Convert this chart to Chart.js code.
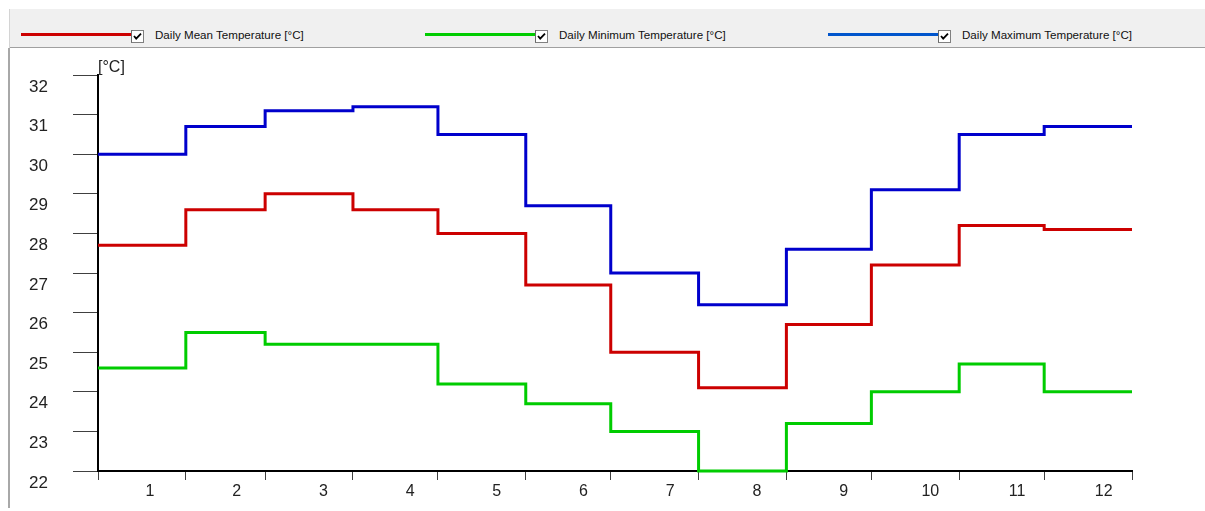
<!DOCTYPE html>
<html>
<head>
<meta charset="utf-8">
<script src="https://cdn.jsdelivr.net/npm/chart.js@4.4.1/dist/chart.umd.min.js"></script>
<style>
html,body{margin:0;padding:0;background:#fff;width:1205px;height:511px;overflow:hidden;position:relative;font-family:"Liberation Sans",Arial,sans-serif;}
#strip{position:absolute;left:10px;top:9px;width:1195px;height:38px;background:#f0f0f0;border-bottom:1px solid #a0a0a0;}
#edgeTop{position:absolute;left:9px;top:9px;width:1px;height:39px;background:#d4d4d4;}
#edgeLeft{position:absolute;left:8px;top:48px;width:2px;height:460px;background:#a8a8a8;}
.lgLine{position:absolute;height:3px;top:33px;}
.lgBox{position:absolute;top:29px;width:13px;height:13px;}
.lgText{position:absolute;top:28px;font-size:11.6px;line-height:14px;color:#111;white-space:nowrap;}
#wrap{position:absolute;left:0;top:48px;width:1205px;height:463px;}
</style>
</head>
<body>
<div id="strip"></div>
<div id="edgeTop"></div>
<div id="edgeLeft"></div>
<div id="legend"></div>
<div id="wrap"><canvas id="c"></canvas></div>
<script>
// ---- data ----
const monthLabels = ['1','2','3','4','5','6','7','8','9','10','11','12'];
const daysInMonth = [31,28,31,30,31,30,31,31,30,31,30,31];
const meanTemp = [27.7,28.6,29.0,28.6,28.0,26.7,25.0,24.1,25.7,27.2,28.2,28.1];
const minTemp  = [24.6,25.5,25.2,25.2,24.2,23.7,23.0,22.0,23.2,24.0,24.7,24.0];
const maxTemp  = [30.0,30.7,31.1,31.2,30.5,28.7,27.0,26.2,27.6,29.1,30.5,30.7];
const yTickValues = [22,23,24,25,26,27,28,29,30,31,32];
const seriesNames = ['Daily Mean Temperature [°C]','Daily Minimum Temperature [°C]','Daily Maximum Temperature [°C]'];
const seriesColors = ['#cc0000','#00cc00','#0000cc'];
const legendColors = ['#cc0000','#00cc00','#0055cc'];
const unitLabel = '[°C]';

// ---- derived ----
const boundaries = [0];
daysInMonth.forEach(d => boundaries.push(boundaries[boundaries.length-1] + d));
const yearDays = boundaries[boundaries.length-1];

function stepPoints(vals){
  const pts = vals.map((v,i) => ({x: boundaries[i], y: v}));
  pts.push({x: yearDays, y: vals[vals.length-1]});
  return pts;
}

// ---- legend (HTML) ----
const legendX = [21, 425, 828];
const legend = document.getElementById('legend');
seriesNames.forEach((name, i) => {
  const x = legendX[i];
  const line = document.createElement('div');
  line.className = 'lgLine';
  line.style.left = x + 'px';
  line.style.width = '111px';
  line.style.background = legendColors[i];
  legend.appendChild(line);
  const box = document.createElement('div');
  box.className = 'lgBox';
  box.style.left = (x + 110) + 'px';
  box.innerHTML = '<svg width="13" height="13" viewBox="0 0 13 13"><rect x="0.5" y="0.5" width="12" height="12" fill="#fff" stroke="#808080"/><path d="M1.5 0.5H0.5V12.5" fill="none" stroke="#6a6a6a"/><polyline points="3,6 5.2,8.6 10,3.6" fill="none" stroke="#000" stroke-width="1.8"/></svg>';
  legend.appendChild(box);
  const t = document.createElement('div');
  t.className = 'lgText';
  t.style.left = (x + 134) + 'px';
  t.textContent = name;
  legend.appendChild(t);
});

// ---- chart ----
const unitPlugin = {
  id: 'unitLabel',
  afterDraw(chart){
    const ctx = chart.ctx, a = chart.chartArea;
    ctx.save();
    ctx.font = '16px "Liberation Sans", Arial, sans-serif';
    ctx.fillStyle = '#222';
    ctx.textAlign = 'left';
    ctx.textBaseline = 'alphabetic';
    ctx.fillText(unitLabel, a.left, a.top - 3.5);
    ctx.restore();
  }
};

const datasets = [meanTemp, minTemp, maxTemp].map((vals, i) => ({
  label: seriesNames[i],
  data: stepPoints(vals),
  borderColor: seriesColors[i],
  backgroundColor: seriesColors[i],
  borderWidth: 3,
  pointRadius: 0,
  stepped: 'before',
  fill: false,
  tension: 0,
  clip: false,
  borderJoinStyle: 'miter',
  borderCapStyle: 'butt'
}));

new Chart(document.getElementById('c'), {
  type: 'line',
  data: { datasets },
  options: {
    responsive: true,
    maintainAspectRatio: false,
    animation: false,
    events: [],
    layout: { padding: { left: 0, right: 73, top: 27, bottom: 0 } },
    plugins: { legend: { display: false }, tooltip: { enabled: false } },
    scales: {
      x: {
        type: 'linear',
        min: 0,
        max: yearDays,
        afterBuildTicks(scale){
          const t = boundaries.map(b => ({value: b, edge: true}));
          monthLabels.forEach((l, i) => t.push({value: (52 + i * 86.7) / 1034 * yearDays, m: i}));
          scale.ticks = t;
        },
        afterFit(scale){ scale.height = 40; scale.paddingLeft = 0; scale.paddingRight = 0; },
        border: { display: true, color: '#000', width: 2 },
        grid: {
          drawOnChartArea: false,
          drawTicks: true,
          tickLength: 9,
          tickWidth: 1,
          tickColor: c => (c.tick && c.tick.edge) ? '#404040' : 'rgba(0,0,0,0)'
        },
        ticks: {
          autoSkip: false,
          maxRotation: 0,
          minRotation: 0,
          padding: 2,
          color: '#222',
          font: { family: '"Liberation Sans", Arial, sans-serif', size: 16 },
          callback: (v, i, ticks) => ticks[i].m === undefined ? '' : monthLabels[ticks[i].m]
        }
      },
      y: {
        min: 22,
        max: 32,
        afterBuildTicks(scale){ scale.ticks = yTickValues.map(v => ({value: v})); },
        afterFit(scale){ scale.width = 98; scale.paddingTop = 0; scale.paddingBottom = 0; },
        border: { display: true, color: '#000', width: 2 },
        grid: {
          drawOnChartArea: false,
          drawTicks: true,
          tickLength: 25,
          tickWidth: 1,
          tickColor: '#404040'
        },
        ticks: {
          padding: 25,
          labelOffset: 12,
          color: '#222',
          font: { family: '"Liberation Sans", Arial, sans-serif', size: 17 }
        }
      }
    }
  },
  plugins: [unitPlugin]
});
</script>
</body>
</html>
